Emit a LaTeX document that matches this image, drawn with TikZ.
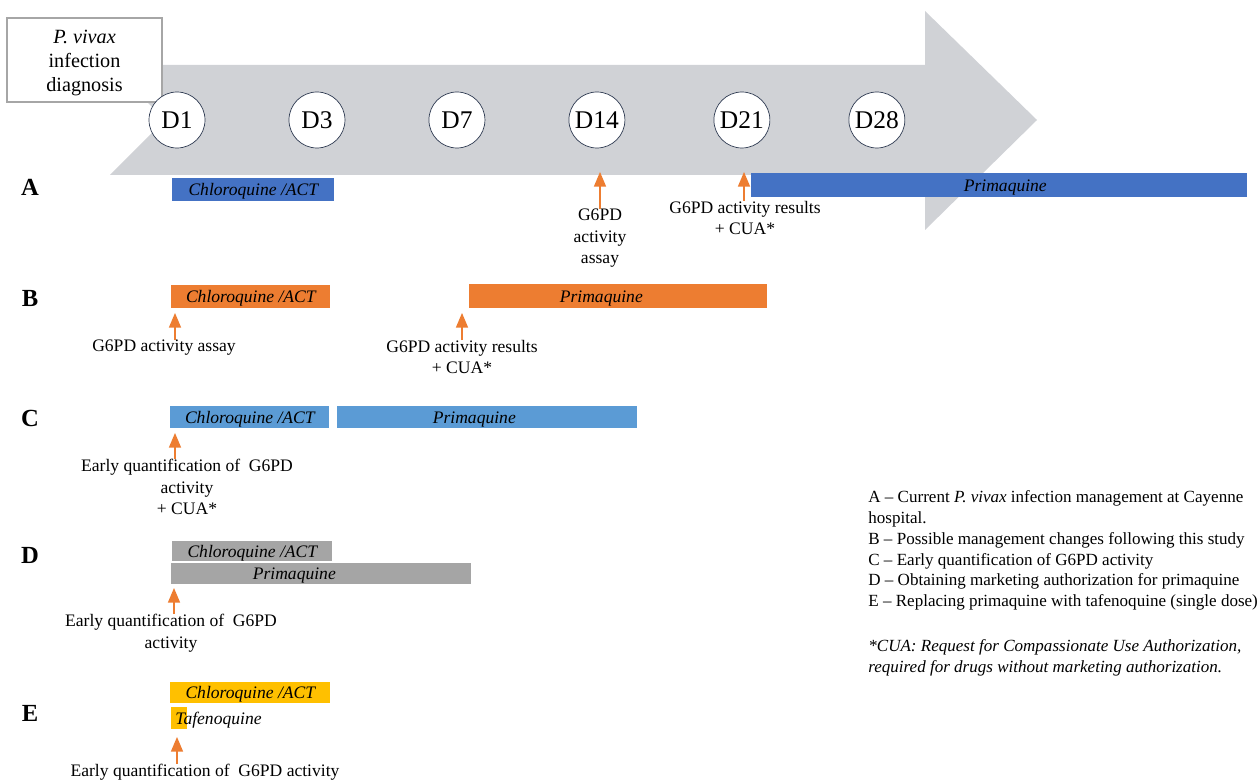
\documentclass[tikz,border=0pt]{standalone}
\usepackage{fontspec}
\setmainfont{Liberation Serif}
\usepackage{tikz}
\usetikzlibrary{shapes,arrows,positioning}
\definecolor{timeline}{HTML}{D0D2D6}
\definecolor{dayline}{HTML}{2F3B52}
\definecolor{boxline}{HTML}{A6A6A6}
\definecolor{pointercol}{HTML}{ED7D31}
\definecolor{barA}{HTML}{4472C4}
\definecolor{barB}{HTML}{ED7D31}
\definecolor{barC}{HTML}{5B9BD5}
\definecolor{barD}{HTML}{A5A5A5}
\definecolor{barE}{HTML}{FFC000}
\tikzset{
  diag/.style     = {draw=boxline, fill=white, line width=0.8pt, rectangle, minimum width=3.1cm, minimum height=1.68cm, align=center, text height=38.5pt, font=\fontsize{11.5}{13.8}\selectfont},
  day/.style      = {draw=dayline, fill=white, circle, minimum size=1.12cm, inner sep=0pt, font=\fontsize{14.5}{16}\selectfont},
  bartext/.style  = {inner sep=0pt, text height=8pt, text depth=1pt, font=\fontsize{10}{12}\selectfont\itshape},
  bar/.style      = {rectangle, anchor=west, bartext},
  note/.style     = {align=center, inner sep=0pt, anchor=north, font=\fontsize{10}{12.2}\selectfont},
  row/.style      = {inner sep=0pt, font=\fontsize{14}{16}\selectfont\bfseries},
  legend/.style   = {align=left, inner sep=0pt, anchor=north west, font=\fontsize{9.7}{11.9}\selectfont},
  pointer/.style  = {->, draw=pointercol, line width=0.9pt}
}

\begin{document}
\begin{tikzpicture}[x=0.02cm, y=-0.02cm, on grid, >=triangle 45]
\useasboundingbox (0,0) rectangle (1260,780);

% Time line
\fill[timeline] (110,65) -- (925,65) -- (925,11) -- (1037,120) -- (925,230)
  -- (925,175) -- (110,175) -- (165,120) -- cycle;
\draw node [diag] (diag) at (84.5,60) {\textit{P. vivax}\\infection\\diagnosis};

% Days
\draw node [day] (d1) at (177,120) {D1};
\draw node [day, right=2.8cm of d1] (d3) {D3};
\draw node [day, right=2.8cm of d3] (d7) {D7};
\draw node [day, right=2.8cm of d7] (d14) {D14};
\draw node [day, right=2.9cm of d14] (d21) {D21};
\draw node [day, right=2.7cm of d21] (d28) {D28};

% Row A
\draw node [row] (rowA) at (30,187) {A};
\draw node [bar, fill=barA, minimum width=3.24cm, minimum height=0.46cm] (chlA) at (172,189.5) {Chloroquine /ACT};
\draw node [bar, fill=barA, minimum width=9.92cm, minimum height=0.48cm,
  label={[bartext, xshift=0.12cm]center:Primaquine}] (priA) at (751,185) {};
\draw node [note] (noteA1) at (600,209) {G6PD\\activity\\assay};
\draw node [note] (noteA2) at (745,201) {G6PD activity results\\+ CUA*};
\coordinate (tipA1) at (600,172);
\coordinate (tipA2) at (744,172);

% Row B
\draw node [row] (rowB) at (30,298) {B};
\draw node [bar, fill=barB, minimum width=3.18cm, minimum height=0.46cm] (chlB) at (171,296.5) {Chloroquine /ACT};
\draw node [bar, fill=barB, minimum width=5.96cm, minimum height=0.48cm,
  label={[bartext, xshift=-0.34cm]center:Primaquine}] (priB) at (469,296) {};
\draw node [note] (noteB1) at (164,340) {G6PD activity assay};
\draw node [note] (noteB2) at (462,340) {G6PD activity results\\+ CUA*};
\coordinate (tipB1) at (175,313);
\coordinate (tipB2) at (462,313);

% Row C
\draw node [row] (rowC) at (30,418) {C};
\draw node [bar, fill=barC, minimum width=3.18cm, minimum height=0.44cm] (chlC) at (170,417) {Chloroquine /ACT};
\draw node [bar, fill=barC, minimum width=6cm, minimum height=0.44cm,
  label={[bartext, xshift=-0.26cm]center:Primaquine}] (priC) at (337,417) {};
\draw node [note] (noteC) at (187,459) {Early quantification of \ G6PD\\activity\\+ CUA*};
\coordinate (tipC) at (175,433);

% Row D
\draw node [row] (rowD) at (30,555) {D};
\draw node [bar, fill=barD, minimum width=3.2cm, minimum height=0.4cm] (chlD) at (172,551) {Chloroquine /ACT};
\draw node [bar, fill=barD, minimum width=6cm, minimum height=0.42cm,
  label={[bartext, xshift=-0.54cm]center:Primaquine}] (priD) at (171,573.5) {};
\draw node [note] (noteD) at (171,614) {Early quantification of \ G6PD\\activity};
\coordinate (tipD) at (174,588);

% Row E
\draw node [row] (rowE) at (30,713) {E};
\draw node [bar, fill=barE, minimum width=3.2cm, minimum height=0.42cm] (chlE) at (170,692.5) {Chloroquine /ACT};
\draw node [bar, fill=barE, minimum width=0.32cm, minimum height=0.44cm] (tafE) at (171,718) {};
\draw node [bar] (tafText) at (175,718) {Tafenoquine};
\draw node [note] (noteE) at (205,764) {Early quantification of \ G6PD activity};
\coordinate (tipE) at (177,737);

% Key
\draw node [legend] (key) at (868,490) {A -- Current \textit{P. vivax} infection management at Cayenne\\hospital.\\B -- Possible management changes following this study\\C -- Early quantification of G6PD activity\\D -- Obtaining marketing authorization for primaquine\\E -- Replacing primaquine with tafenoquine (single dose)\\[13.5pt]\textit{*CUA: Request for Compassionate Use Authorization,}\\\textit{required for drugs without marketing authorization.}};

% Connections
\draw[pointer] (tipA1 |- noteA1.north) -- (tipA1);
\draw[pointer] (tipA2 |- noteA2.north) -- (tipA2);
\draw[pointer] (tipB1 |- noteB1.north) -- (tipB1);
\draw[pointer] (tipB2 |- noteB2.north) -- (tipB2);
\draw[pointer] (tipC |- noteC.north) -- (tipC);
\draw[pointer] (tipD |- noteD.north) -- (tipD);
\draw[pointer] (tipE |- noteE.north) -- (tipE);

\end{tikzpicture}
\end{document}
